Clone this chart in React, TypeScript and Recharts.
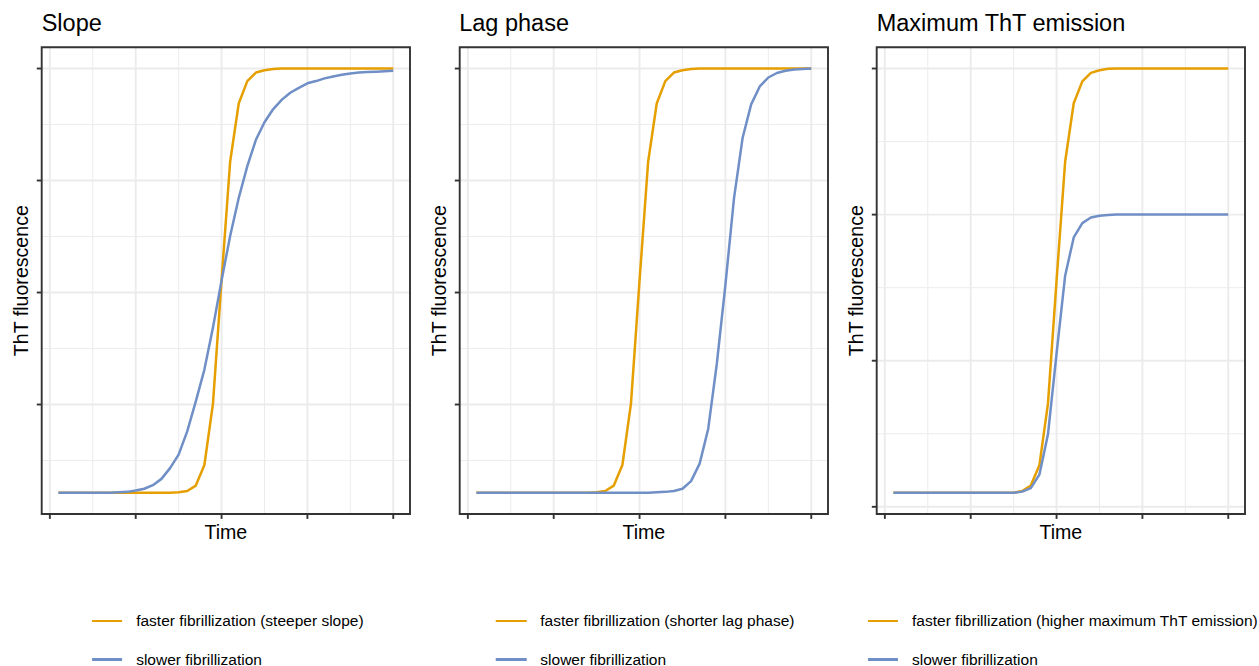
import React from 'react';
import { LineChart, Line, XAxis, YAxis, CartesianGrid, ReferenceArea, Label } from 'recharts';

const FONT = '"Liberation Sans", Arial, Helvetica, sans-serif';
const ORANGE = '#E69F00';
const BLUE = '#6F8FC6';

// time points
const time = [1,2,3,4,5,6,7,8,9,10,11,12,13,14,15,16,17,18,19,20,21,22,23,24,25,26,27,28,29,30,31,32,33,34,35,36,37,38,39,40];

// Panel 1: Slope
const slopeFaster = [0.053,0.053,0.053,0.053,0.053,0.053,0.053,0.053,0.053,0.053,0.053,0.053,0.053,0.053,0.054,0.057,0.069,0.115,0.252,0.527,0.792,0.922,0.972,0.991,0.996,0.999,1,1,1,1,1,1,1,1,1,1,1,1,1,1];
const slopeSlower = [0.053,0.053,0.053,0.053,0.053,0.053,0.053,0.054,0.055,0.058,0.062,0.070,0.084,0.108,0.138,0.190,0.257,0.328,0.422,0.527,0.626,0.711,0.782,0.841,0.880,0.909,0.930,0.946,0.957,0.967,0.972,0.978,0.982,0.986,0.989,0.991,0.992,0.993,0.994,0.995];

// Panel 2: Lag phase
const lagFaster = [0.053,0.053,0.053,0.053,0.053,0.053,0.053,0.053,0.053,0.053,0.053,0.053,0.053,0.053,0.054,0.057,0.069,0.115,0.252,0.527,0.792,0.922,0.972,0.991,0.996,0.999,1,1,1,1,1,1,1,1,1,1,1,1,1,1];
const lagSlower = [0.053,0.053,0.053,0.053,0.053,0.053,0.053,0.053,0.053,0.053,0.053,0.053,0.053,0.053,0.053,0.053,0.053,0.053,0.053,0.053,0.053,0.054,0.055,0.057,0.062,0.079,0.118,0.196,0.341,0.517,0.710,0.845,0.920,0.960,0.980,0.990,0.995,0.998,0.999,1.0];

// Panel 3: Maximum ThT emission
const maxFaster = [0.048,0.048,0.048,0.048,0.048,0.048,0.048,0.048,0.048,0.048,0.048,0.048,0.048,0.048,0.048,0.054,0.073,0.142,0.353,0.774,1.181,1.381,1.456,1.485,1.494,1.499,1.5,1.5,1.5,1.5,1.5,1.5,1.5,1.5,1.5,1.5,1.5,1.5,1.5,1.5];
const maxSlower = [0.048,0.048,0.048,0.048,0.048,0.048,0.048,0.048,0.048,0.048,0.048,0.048,0.048,0.048,0.048,0.052,0.064,0.110,0.248,0.524,0.791,0.922,0.971,0.990,0.996,0.999,1,1,1,1,1,1,1,1,1,1,1,1,1,1];

const xTicks = [0, 10, 20, 30, 40];
const xMinor = [5, 15, 25, 35];
const xDomain: [number, number] = [-0.95, 41.95];

const yTicksA = [0.25, 0.5, 0.75, 1.0];
const yMinorA = [0.125, 0.375, 0.625, 0.875];
const yDomainA: [number, number] = [0.0056, 1.0474];

const yTicksB = [0, 0.5, 1.0, 1.5];
const yMinorB = [0.25, 0.75, 1.25];
const yDomainB: [number, number] = [-0.0246, 1.5726];

const titles = ['Slope', 'Lag phase', 'Maximum ThT emission'];
const fasterLabels = [
  'faster fibrillization (steeper slope)',
  'faster fibrillization (shorter lag phase)',
  'faster fibrillization (higher maximum ThT emission)',
];
const slowerLabel = 'slower fibrillization';

const PANEL_STEP = 417.5;
const CHART_W = 419;
const CHART_H = 560;
const PLOT_LEFT = 41.7;
const PLOT_RIGHT = 410;
const PLOT_TOP = 47.3;
const XAXIS_H = 46;

const emptyLabel = () => '';

type PanelProps = {
  index: number;
  faster: number[];
  slower: number[];
  yDomain: [number, number];
  yTicks: number[];
  yMinor: number[];
};

function Panel({ index, faster, slower, yDomain, yTicks, yMinor }: PanelProps) {
  const data = time.map((t, i) => ({ t, faster: faster[i], slower: slower[i] }));
  const left = index * PANEL_STEP;
  const tickLine = { stroke: '#333333', strokeWidth: 1.9 };
  return (
    <div style={{ position: 'absolute', left, top: 0, width: CHART_W, height: 666 }}>
      <div
        style={{
          position: 'absolute',
          left: PLOT_LEFT,
          top: 12.4,
          fontFamily: FONT,
          fontSize: 23.5,
          lineHeight: 1,
          color: '#000',
          whiteSpace: 'nowrap',
        }}
      >
        {titles[index]}
      </div>
      <div style={{ position: 'absolute', left: 0, top: 0 }}>
        <LineChart
          width={CHART_W}
          height={CHART_H}
          data={data}
          margin={{ top: PLOT_TOP, right: CHART_W - PLOT_RIGHT, bottom: 0, left: 0 }}
        >
          <CartesianGrid stroke="#EBEBEB" strokeWidth={0.95} horizontalValues={yMinor} verticalValues={xMinor} />
          <CartesianGrid stroke="#EBEBEB" strokeWidth={1.9} horizontalValues={yTicks} verticalValues={xTicks} />
          <XAxis
            type="number"
            dataKey="t"
            domain={xDomain}
            ticks={xTicks}
            allowDataOverflow
            interval={0}
            tickFormatter={emptyLabel}
            tickSize={4.9}
            tickLine={tickLine}
            axisLine={false}
            height={XAXIS_H}
          >
            <Label value="Time" position="insideTop" offset={11.4} fill="#000" fontSize={19.6} fontFamily={FONT} />
          </XAxis>
          <YAxis
            type="number"
            domain={yDomain}
            ticks={yTicks}
            allowDataOverflow
            interval={0}
            tickFormatter={emptyLabel}
            tickSize={4.9}
            tickLine={tickLine}
            axisLine={false}
            width={PLOT_LEFT}
          >
            <Label value="ThT fluorescence" angle={-90} position="center" fill="#000" fontSize={19.6} fontFamily={FONT} />
          </YAxis>
          <Line
            type="linear"
            dataKey="faster"
            stroke={ORANGE}
            strokeWidth={2.5}
            strokeLinejoin="round"
            dot={false}
            activeDot={false}
            isAnimationActive={false}
          />
          <Line
            type="linear"
            dataKey="slower"
            stroke={BLUE}
            strokeWidth={2.5}
            strokeLinejoin="round"
            dot={false}
            activeDot={false}
            isAnimationActive={false}
          />
          <ReferenceArea
            x1={xDomain[0]}
            x2={xDomain[1]}
            y1={yDomain[0]}
            y2={yDomain[1]}
            fill="none"
            stroke="#333333"
            strokeWidth={1.9}
            ifOverflow="visible"
          />
        </LineChart>
      </div>
      <div
        style={{
          position: 'absolute',
          left: 227.7,
          top: 605,
          transform: 'translateX(-50%)',
          fontFamily: FONT,
          fontSize: 15.5,
          color: '#000',
          whiteSpace: 'nowrap',
        }}
      >
        {[
          { label: fasterLabels[index], color: ORANGE },
          { label: slowerLabel, color: BLUE },
        ].map((item, i) => (
          <div
            key={i}
            style={{
              display: 'flex',
              alignItems: 'center',
              height: 18,
              lineHeight: '18px',
              marginTop: i === 0 ? 7 : 20.5,
            }}
          >
            <div style={{ width: 30.4, height: 2.5, background: item.color, marginRight: 14 }} />
            <span>{item.label}</span>
          </div>
        ))}
      </div>
    </div>
  );
}

export default function App() {
  return (
    <div
      style={{
        position: 'absolute',
        left: 0,
        top: 0,
        width: 1259,
        height: 666,
        overflow: 'hidden',
        background: '#fff',
      }}
    >
      <Panel index={0} faster={slopeFaster} slower={slopeSlower} yDomain={yDomainA} yTicks={yTicksA} yMinor={yMinorA} />
      <Panel index={1} faster={lagFaster} slower={lagSlower} yDomain={yDomainA} yTicks={yTicksA} yMinor={yMinorA} />
      <Panel index={2} faster={maxFaster} slower={maxSlower} yDomain={yDomainB} yTicks={yTicksB} yMinor={yMinorB} />
    </div>
  );
}
